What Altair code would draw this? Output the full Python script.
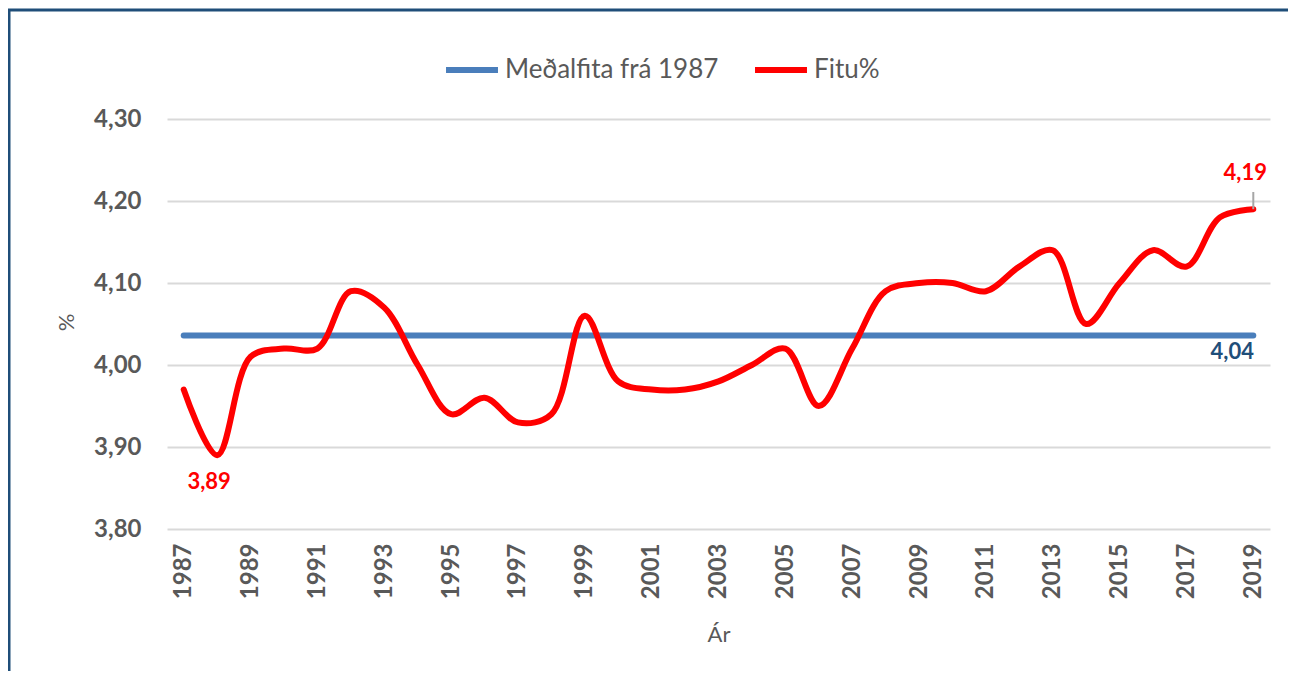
import altair as alt
import pandas as pd

years = list(range(1987, 2020))
fat_pct = [3.97, 3.89, 4.01, 4.02, 4.02, 4.09, 4.07, 4.00, 3.94, 3.96,
           3.93, 3.94, 4.06, 3.98, 3.97, 3.97, 3.98, 4.00, 4.02, 3.95,
           4.02, 4.09, 4.10, 4.10, 4.09, 4.12, 4.14, 4.05, 4.10, 4.14,
           4.12, 4.18, 4.19]
mean_value = 4.036
series_names = ["Meðalfita frá 1987", "Fitu%"]
series_colors = ["#4A7EBB", "#FF0000"]
y_ticks = [3.8, 3.9, 4.0, 4.1, 4.2, 4.3]
x_ticks = list(range(1987, 2020, 2))

rows = [{"year": y, "value": mean_value, "series": series_names[0]} for y in years]
rows += [{"year": y, "value": v, "series": series_names[1]} for y, v in zip(years, fat_pct)]
df = pd.DataFrame(rows)

FONT = "Lato"
GREY = "#595959"

x_enc = alt.X("year:Q", scale=alt.Scale(domain=[1986.5, 2019.5], nice=False, zero=False),
              axis=alt.Axis(values=x_ticks, format="d", labelAngle=270, labelFontWeight="bold",
                            labelFontSize=24, labelColor=GREY, labelFont=FONT, labelPadding=14,
                            domain=False, ticks=False, grid=False, title="Ár",
                            titleFont=FONT, titleFontSize=22, titleFontWeight="normal",
                            titleColor=GREY, titleY=105, titleBaseline="middle"))
y_enc = alt.Y("value:Q", scale=alt.Scale(domain=[3.8, 4.3], nice=False, zero=False),
              axis=alt.Axis(values=y_ticks, labelExpr="replace(format(datum.value, '.2f'), '.', ',')",
                            labelFontWeight="bold", labelFontSize=24, labelColor=GREY, labelFont=FONT,
                            labelPadding=26, domain=False, ticks=False, grid=True,
                            gridColor="#D9D9D9", gridWidth=2, title="%", titleFont=FONT,
                            titleFontSize=22, titleFontWeight="normal", titleColor=GREY,
                            titleX=-101, titleY=203, titleBaseline="middle", titleAngle=270))
color_enc = alt.Color("series:N",
                      scale=alt.Scale(domain=series_names, range=series_colors),
                      sort=series_names,
                      legend=alt.Legend(orient="none", legendX=276, legendY=-78, direction="horizontal",
                                        title=None, symbolType="stroke", symbolStrokeWidth=6,
                                        symbolSize=2700, labelFont=FONT, labelFontSize=26,
                                        labelColor=GREY, columnPadding=24, labelOffset=4,
                                        labelLimit=500, symbolOffset=0))

lines = alt.Chart(df).mark_line(interpolate="catmull-rom", strokeWidth=6, strokeCap="round").encode(
    x=x_enc, y=y_enc, color=color_enc, detail="series:N"
)

ann_year = [1988, 2019, 2019]
ann_value = [3.89, 4.19, mean_value]
ann_text = ["3,89", "4,19", "4,04"]
ann_color = ["#FF0000", "#FF0000", "#1F4E79"]
ann_dx = [-8, -8, -21]
ann_dy = [27, -36, 17]

ann_layers = []
for yr, v, t, c, dx, dy in zip(ann_year, ann_value, ann_text, ann_color, ann_dx, ann_dy):
    d = pd.DataFrame({"year": [yr], "value": [v], "label": [t]})
    ann_layers.append(
        alt.Chart(d).mark_text(font=FONT, fontSize=22, fontWeight="bold", color=c, dx=dx, dy=dy,
                               baseline="middle", align="center").encode(
            x=alt.X("year:Q"), y=alt.Y("value:Q"), text="label:N")
    )

leader = alt.Chart(pd.DataFrame({"year": [2019], "value": [4.19]})).mark_rule(
    color="#A6A6A6", strokeWidth=2).encode(
    x="year:Q", y="value:Q", y2=alt.value(73))

border_top = alt.Chart(pd.DataFrame({"a": [0]})).mark_rule(color="#1F4E79", strokeWidth=3).encode(
    x=alt.value(-159), x2=alt.value(1130), y=alt.value(-109))
border_left = alt.Chart(pd.DataFrame({"a": [0]})).mark_rule(color="#1F4E79", strokeWidth=3).encode(
    x=alt.value(-158), y=alt.value(-110), y2=alt.value(560))

chart = alt.layer(lines, leader, *ann_layers, border_top, border_left).properties(
    width=1103, height=410,
    autosize=alt.AutoSizeParams(type="none"),
    padding={"left": 159, "top": 111, "right": 18, "bottom": 142},
    background="white",
).configure_view(stroke=None)

chart.save("out.html", embed_options={"renderer": "svg", "actions": False})
